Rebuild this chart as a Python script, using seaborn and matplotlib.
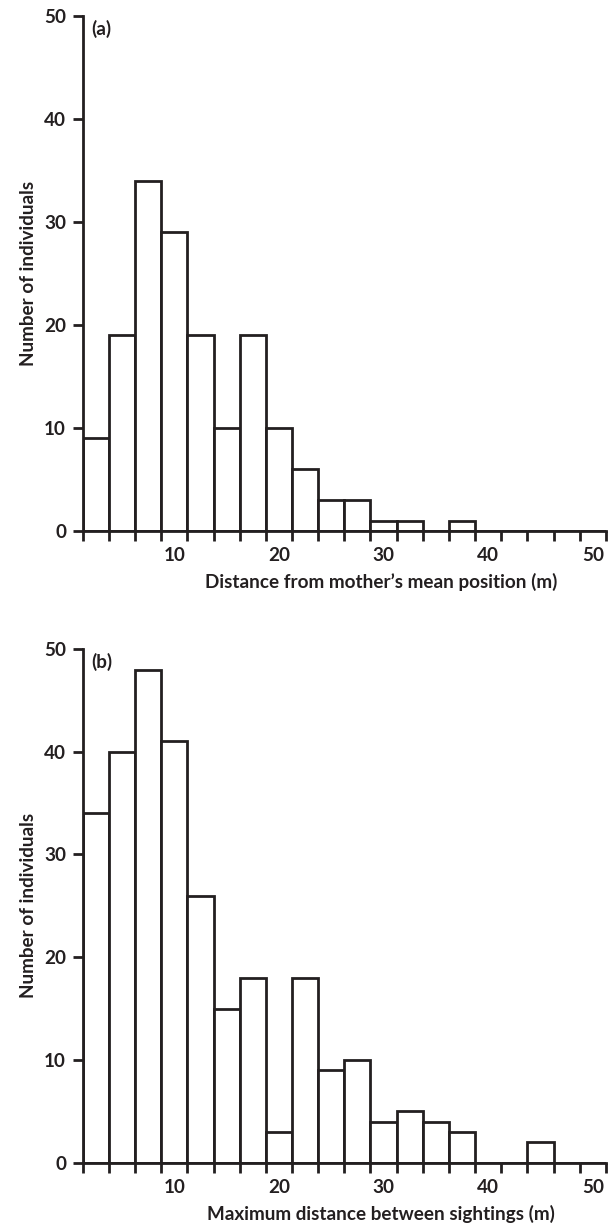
import pandas as pd
import seaborn as sns
import matplotlib.pyplot as plt

# bin centres (m), bins are 2.5 m wide
bin_centres = [2.5, 5, 7.5, 10, 12.5, 15, 17.5, 20, 22.5, 25,
               27.5, 30, 32.5, 35, 37.5, 40, 42.5, 45, 47.5, 50]
counts_a = [9, 19, 34, 29, 19, 10, 19, 10, 6, 3,
            3, 1, 1, 0, 1, 0, 0, 0, 0, 0]
counts_b = [34, 40, 48, 41, 26, 15, 18, 3, 18, 9,
            10, 4, 5, 4, 3, 0, 0, 2, 0, 0]
x_labels = [10, 20, 30, 40, 50]
y_ticks = [0, 10, 20, 30, 40, 50]
panels = ["(a)", "(b)"]
x_titles = ["Distance from mother\u2019s mean position (m)",
            "Maximum distance between sightings (m)"]
y_title = "Number of individuals"

ink = "#231f20"
fs = 13.6

sns.set_theme(style="ticks")
plt.rcParams["font.family"] = ["Lato", "DejaVu Sans"]
plt.rcParams["font.weight"] = "bold"
plt.rcParams["axes.labelweight"] = "bold"

df = pd.DataFrame({"centre": bin_centres, "a": counts_a, "b": counts_b})
edges = [c - 1.25 for c in bin_centres] + [bin_centres[-1] + 1.25]

fig = plt.figure(figsize=(6.09, 12.28), dpi=100)
ax_a = fig.add_axes([0.1358, 0.5676, 0.8592, 0.4196])
ax_b = fig.add_axes([0.1358, 0.0532, 0.8592, 0.4183])

for ax, col, tag, xt in zip([ax_a, ax_b], ["a", "b"], panels, x_titles):
    sns.histplot(data=df, x="centre", weights=col, bins=edges, ax=ax,
                 color="white", edgecolor=ink, linewidth=2.0, alpha=1)
    ax.set_xlim(edges[0], edges[-1])
    ax.set_ylim(0, 50)
    sns.despine(ax=ax)
    for s in ["left", "bottom"]:
        ax.spines[s].set_linewidth(2.0)
        ax.spines[s].set_color(ink)
    # tick marks at bin edges, labels at bin centres
    ax.set_xticks(edges, labels=[""] * len(edges))
    ax.set_xticks(x_labels, labels=[str(v) for v in x_labels], minor=True)
    ax.tick_params(axis="x", which="major", length=7, width=2.0, color=ink,
                   direction="out")
    ax.tick_params(axis="x", which="minor", length=0, pad=11.5,
                   labelsize=fs, labelcolor=ink)
    ax.set_yticks(y_ticks)
    ax.tick_params(axis="y", length=7, width=2.0, color=ink, pad=5,
                   labelsize=fs, labelcolor=ink)
    for lab in ax.get_xticklabels(minor=True) + ax.get_yticklabels():
        lab.set_fontweight("bold")
    ax.set_xlabel(xt, fontsize=fs, color=ink)
    ax.xaxis.set_label_coords(0.57, -0.082)
    ax.set_ylabel(y_title, fontsize=fs, color=ink, labelpad=5)
    ax.text(0.016, 0.992, tag, transform=ax.transAxes, ha="left", va="top",
            fontsize=fs, fontweight="bold", color=ink)

fig.savefig("out.png", dpi=100)
